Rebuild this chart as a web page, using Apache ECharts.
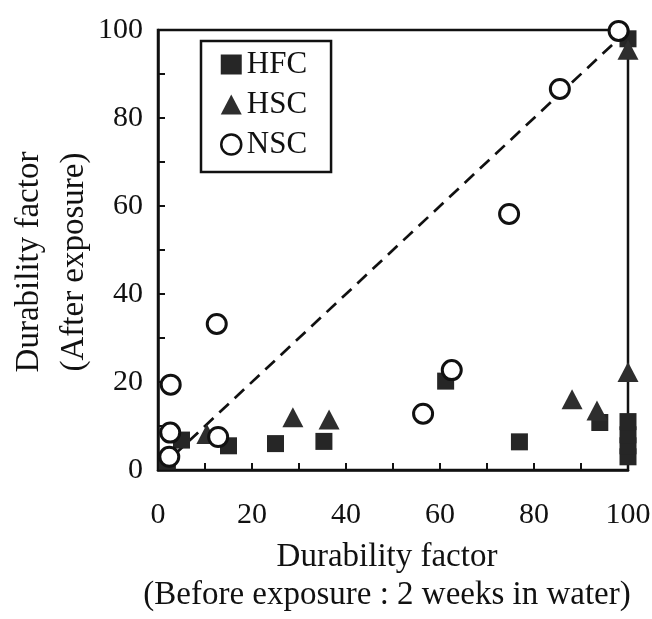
<!DOCTYPE html>
<html>
<head>
<meta charset="utf-8">
<script src="https://cdn.jsdelivr.net/npm/echarts@6/dist/echarts.min.js"></script>
<style>
  html, body { margin: 0; padding: 0; background: #fff; }
  #chart { width: 652px; height: 619px; }
</style>
</head>
<body>
<div id="chart"></div>
<script>
// Durability factor before (x) and after (y) exposure, per concrete type
const hfcPoints = [
  [2, 2], [5, 6.8], [15, 5.5], [25, 6], [35.3, 6.5], [61.2, 20.2],
  [76.9, 6.4], [94, 10.8], [100, 3], [100, 5.5], [100, 8], [100, 11], [100, 98]
];
const hscPoints = [
  [10.4, 8.2], [28.7, 12], [36.4, 11.5], [88.1, 16.1], [93.4, 13.5],
  [100, 22.3], [100, 95.5]
];
const nscPoints = [
  [2.7, 19.4], [2.6, 8.5], [2.4, 3], [12.5, 33.2], [12.8, 7.5],
  [56.4, 12.8], [62.5, 22.7], [74.7, 58.2], [85.5, 86.6], [98, 99.8]
];
// Equality line (after = before)
const equalityLine = [[0, 0], [100, 100]];

const axisMin = 0, axisMax = 100, tickStep = 10, labelStep = 20;
const seriesNames = ['HFC', 'HSC', 'NSC'];

const serif = '"Liberation Serif", "DejaVu Serif", serif';
const ink = '#111';
const hfcFill = '#262626';
const hscFill = '#2e2e2e';

const chart = echarts.init(document.getElementById('chart'), null, { renderer: 'canvas' });

const tickFmt = v => (v % labelStep === 0 ? String(v) : '');

chart.setOption({
  animation: false,
  backgroundColor: '#fff',
  grid: {
    left: 158, right: 24, top: 30, bottom: 149,
    outerBoundsMode: 'none', containLabel: false,
    show: true, borderColor: ink, borderWidth: 2.5, backgroundColor: 'transparent'
  },
  legend: {
    orient: 'vertical',
    left: 201, top: 41,
    padding: [8, 24, 12, 19],
    itemGap: 9,
    itemWidth: 21, itemHeight: 20,
    borderColor: ink, borderWidth: 2.5,
    textStyle: { fontFamily: serif, fontSize: 31, lineHeight: 30, color: ink },
    data: [
      { name: 'HFC', icon: 'rect', itemStyle: { color: hfcFill, borderWidth: 0, opacity: 1 } },
      { name: 'HSC', icon: 'triangle', itemStyle: { color: hscFill, borderWidth: 0, opacity: 1 } },
      { name: 'NSC', icon: 'circle', itemStyle: { color: '#fff', borderColor: ink, borderWidth: 2.5, opacity: 1 } }
    ]
  },
  xAxis: {
    type: 'value', min: axisMin, max: axisMax, interval: tickStep,
    axisLine: { show: true, lineStyle: { color: ink, width: 2.5 } },
    axisTick: { show: true, inside: true, length: 7, lineStyle: { color: ink, width: 2 } },
    splitLine: { show: false },
    axisLabel: { formatter: tickFmt, margin: 30, fontFamily: serif, fontSize: 30, color: ink, showMaxLabel: true, showMinLabel: true },
    name: 'Durability factor\n(Before exposure : 2 weeks in water)',
    nameLocation: 'middle', nameGap: 68,
    nameTextStyle: { fontFamily: serif, fontSize: 33, lineHeight: 38, color: ink, verticalAlign: 'top', padding: [0, 12, 0, 0] }
  },
  yAxis: {
    type: 'value', min: axisMin, max: axisMax, interval: tickStep,
    axisLine: { show: true, lineStyle: { color: ink, width: 2.5 } },
    axisTick: { show: true, inside: true, length: 7, lineStyle: { color: ink, width: 2 } },
    splitLine: { show: false },
    axisLabel: { formatter: tickFmt, margin: 15, fontFamily: serif, fontSize: 30, color: ink, showMaxLabel: true, showMinLabel: true },
    name: 'Durability factor\n(After exposure)',
    nameLocation: 'middle', nameGap: 61, nameRotate: 90, nameMoveOverlap: false,
    nameTextStyle: { fontFamily: serif, fontSize: 33, lineHeight: 45, color: ink, padding: [0, 24, 0, 0] }
  },
  series: [
    {
      type: 'line', name: 'equality', data: equalityLine, symbol: 'none', silent: true,
      lineStyle: { color: ink, width: 2.7, type: [13, 8] }, z: 1
    },
    {
      type: 'scatter', name: seriesNames[0], data: hfcPoints, symbol: 'rect', symbolSize: 17,
      itemStyle: { color: hfcFill, opacity: 1 }, clip: false, z: 3
    },
    {
      type: 'scatter', name: seriesNames[1], data: hscPoints, symbol: 'triangle', symbolSize: [21, 20],
      itemStyle: { color: hscFill, opacity: 1 }, clip: false, z: 4
    },
    {
      type: 'scatter', name: seriesNames[2], data: nscPoints, symbol: 'circle', symbolSize: 19,
      itemStyle: { color: '#fff', borderColor: ink, borderWidth: 3, opacity: 1 }, clip: false, z: 5
    }
  ]
});
</script>
</body>
</html>
